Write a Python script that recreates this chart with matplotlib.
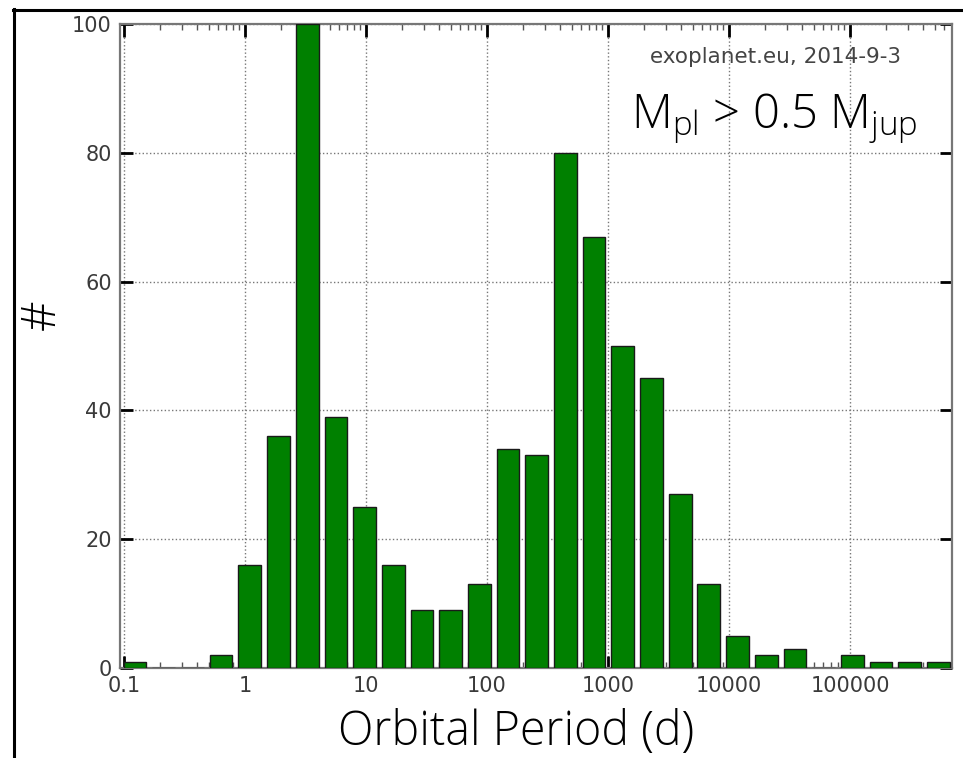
import numpy as np
import matplotlib
matplotlib.use("Agg")
import matplotlib.pyplot as plt
from matplotlib.lines import Line2D
from matplotlib.ticker import FixedLocator, FixedFormatter, LogLocator, NullFormatter

# ---- data ----
log_period_min = -1.033   # log10 of first bin edge (days)
log_period_max = 5.843    # log10 of last bin edge (days)
n_bins = 29
counts = [1, 0, 0, 2, 16, 36, 100, 39, 25, 16, 9, 9, 13, 34, 33,
          80, 67, 50, 45, 27, 13, 5, 2, 3, 0, 2, 1, 1, 1]
xtick_values = [0.1, 1, 10, 100, 1000, 10000, 100000]
xtick_labels = ["0.1", "1", "10", "100", "1000", "10000", "100000"]
ytick_values = [0, 20, 40, 60, 80, 100]

edges = np.logspace(log_period_min, log_period_max, n_bins + 1)
centers = np.sqrt(edges[:-1] * edges[1:])

fig = plt.figure(figsize=(9.63, 7.58), dpi=100)
ax = fig.add_axes([120/963, 1-668/758, (952-120)/963, (668-24)/758])

ax.hist(centers, bins=edges, weights=counts, rwidth=0.8,
        color="#008000", edgecolor="#1a1a1a", linewidth=1.0, zorder=3)

ax.set_xscale("log")
ax.set_xlim(edges[0], edges[-1])
ax.set_ylim(0, 100)

ax.xaxis.set_major_locator(FixedLocator(xtick_values))
ax.xaxis.set_major_formatter(FixedFormatter(xtick_labels))
ax.xaxis.set_minor_locator(LogLocator(base=10, subs=np.arange(2, 10), numticks=50))
ax.xaxis.set_minor_formatter(NullFormatter())
ax.set_yticks(ytick_values)

ax.grid(True, which="major", linestyle=":", color="#777777", linewidth=1.0, zorder=0)
ax.set_axisbelow(True)

ax.tick_params(which="major", direction="in", length=9, width=2, color="black",
               top=True, right=True, labelsize=15, labelcolor="#3a3a3a", pad=6)
ax.tick_params(which="minor", direction="in", length=4, width=1, color="#555555",
               top=True, right=True)
for s in ax.spines.values():
    s.set_color("#777777")
    s.set_linewidth(1.6)

light = dict(family=["Open Sans", "Lato", "DejaVu Sans"], fontweight=300)

fig.text(775/963, 1-57/758, "exoplanet.eu, 2014-9-3", ha="center", va="center",
         fontsize=15.5, color="#444444")
fig.text(774/963, 1-128/758, r"$\mathregular{M_{pl}}$ > 0.5 $\mathregular{M_{jup}}$",
         ha="center", va="baseline", fontsize=34, color="black", **light)
fig.text(516/963, 1-745/758, "Orbital Period (d)", ha="center", va="baseline",
         fontsize=33.5, color="black", **light)
fig.text(42/963, 1-315/758, "#", ha="center", va="center", rotation=90,
         fontsize=34, color="black", **light)

# outer frame lines (partial box)
fig.add_artist(Line2D([13/963, 1.0], [1-9.5/758, 1-9.5/758], transform=fig.transFigure,
                      color="black", linewidth=2.2))
fig.add_artist(Line2D([14/963, 14/963], [1-9/758, 0.0], transform=fig.transFigure,
                      color="black", linewidth=2.2))

fig.savefig("out.png", dpi=100)
